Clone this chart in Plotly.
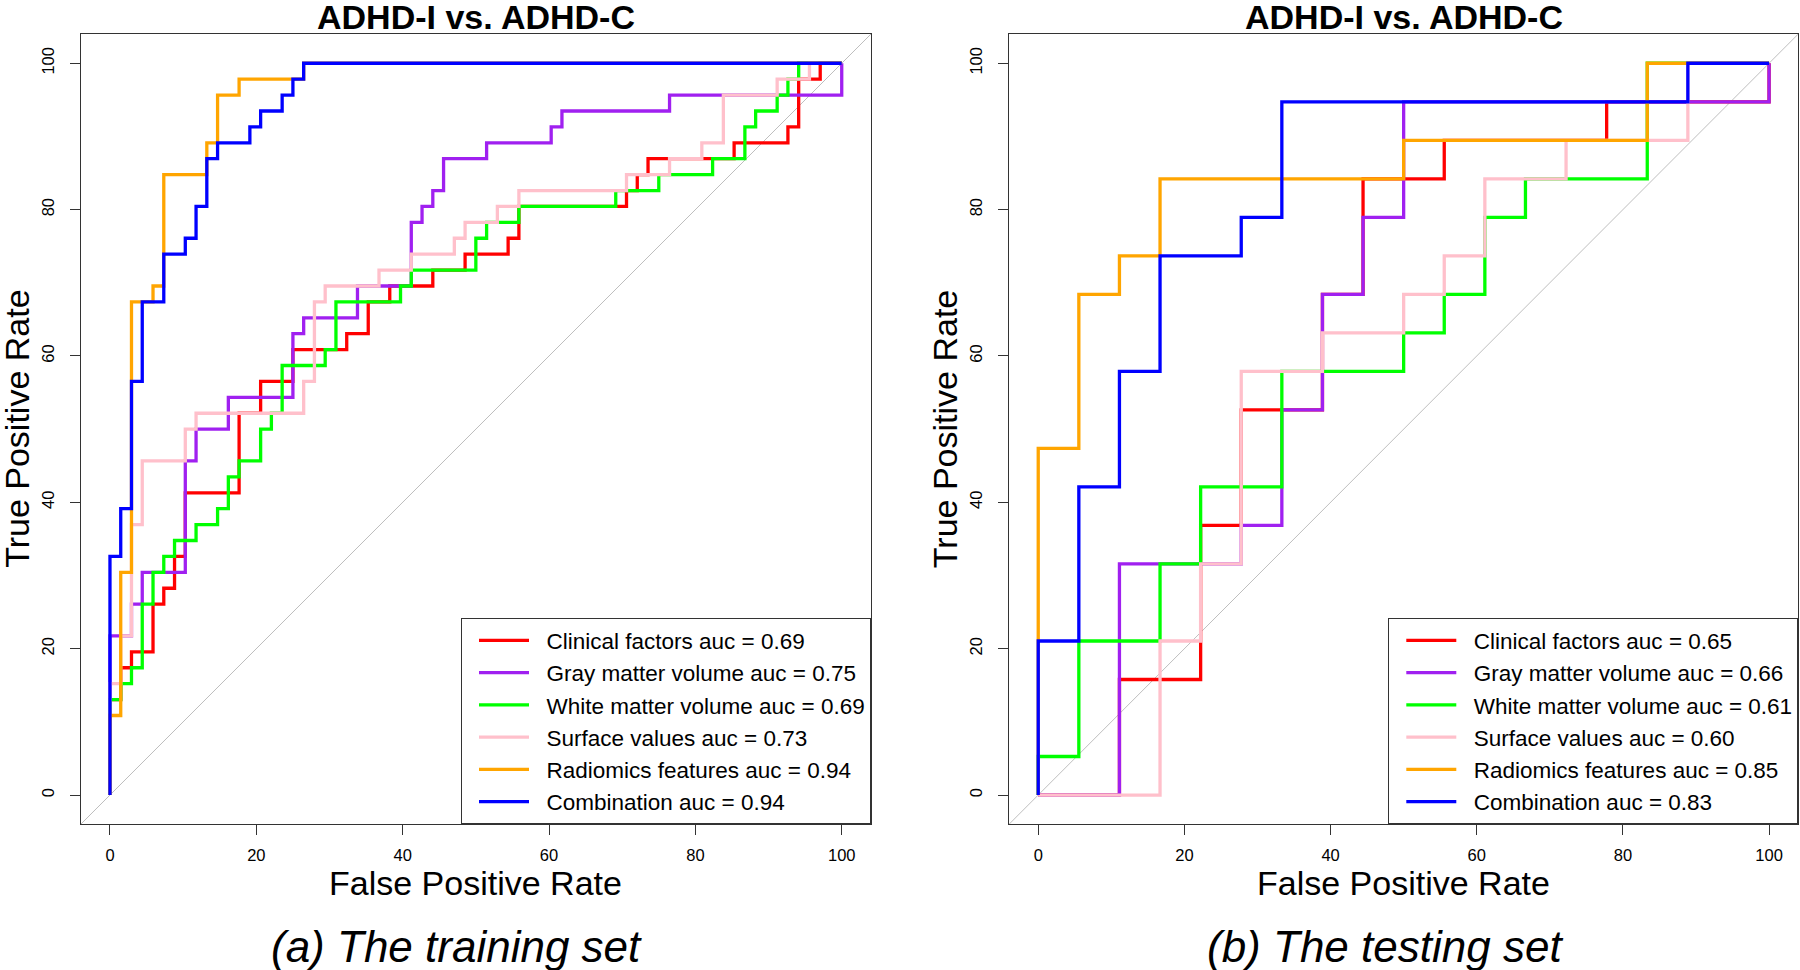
import plotly.graph_objects as go

# ---------------- data (step counts read from the ROC staircases) ----------------
n_neg_train = 68
n_pos_train = 46
n_neg_test = 18
n_pos_test = 19

# training set: false-positive counts / true-positive counts at each staircase corner
tr_clin_fp = [0, 0, 1, 1, 2, 2, 4, 4, 5, 5, 6, 6, 7, 7, 12, 12, 14, 14, 17, 17, 22, 22, 24, 24, 26, 26, 30, 30, 33, 33, 37, 37, 38, 38, 48, 48, 49, 49, 50, 50, 58, 58, 63, 63, 64, 64, 66, 66, 68]
tr_clin_tp = [0, 6, 6, 8, 8, 9, 9, 12, 12, 13, 13, 15, 15, 19, 19, 24, 24, 26, 26, 28, 28, 29, 29, 31, 31, 32, 32, 33, 33, 34, 34, 35, 35, 37, 37, 38, 38, 39, 39, 40, 40, 41, 41, 42, 42, 45, 45, 46, 46]

tr_gray_fp = [0, 0, 2, 2, 3, 3, 7, 7, 8, 8, 11, 11, 17, 17, 18, 18, 23, 23, 28, 28, 29, 29, 30, 30, 31, 31, 35, 35, 41, 41, 42, 42, 52, 52, 68, 68]
tr_gray_tp = [0, 10, 10, 12, 12, 14, 14, 21, 21, 23, 23, 25, 25, 29, 29, 30, 30, 32, 32, 36, 36, 37, 37, 38, 38, 40, 40, 41, 41, 42, 42, 43, 43, 44, 44, 46]

tr_white_fp = [0, 0, 1, 1, 2, 2, 3, 3, 4, 4, 5, 5, 6, 6, 8, 8, 10, 10, 11, 11, 12, 12, 14, 14, 15, 15, 16, 16, 20, 20, 21, 21, 27, 27, 28, 28, 34, 34, 35, 35, 38, 38, 47, 47, 51, 51, 56, 56, 59, 59, 60, 60, 62, 62, 63, 63, 64, 64, 68]
tr_white_tp = [0, 6, 6, 7, 7, 8, 8, 12, 12, 14, 14, 15, 15, 16, 16, 17, 17, 18, 18, 20, 20, 21, 21, 23, 23, 24, 24, 27, 27, 28, 28, 31, 31, 32, 32, 33, 33, 35, 35, 36, 36, 37, 37, 38, 38, 39, 39, 40, 40, 42, 42, 43, 43, 44, 44, 45, 45, 46, 46]

tr_surf_fp = [0, 0, 1, 1, 2, 2, 3, 3, 7, 7, 8, 8, 18, 18, 19, 19, 20, 20, 25, 25, 28, 28, 32, 32, 33, 33, 36, 36, 38, 38, 48, 48, 52, 52, 55, 55, 57, 57, 62, 62, 65, 65, 68]
tr_surf_tp = [0, 7, 7, 10, 10, 17, 17, 21, 21, 23, 23, 24, 24, 26, 26, 31, 31, 32, 32, 33, 33, 34, 34, 35, 35, 36, 36, 37, 37, 38, 38, 39, 39, 40, 40, 41, 41, 44, 44, 45, 45, 46, 46]

tr_radio_fp = [0, 0, 1, 1, 2, 2, 4, 4, 5, 5, 9, 9, 10, 10, 12, 12, 18, 18, 68]
tr_radio_tp = [0, 5, 5, 14, 14, 31, 31, 32, 32, 39, 39, 41, 41, 44, 44, 45, 45, 46, 46]

tr_comb_fp = [0, 0, 1, 1, 2, 2, 3, 3, 5, 5, 7, 7, 8, 8, 9, 9, 10, 10, 13, 13, 14, 14, 16, 16, 17, 17, 18, 18, 68]
tr_comb_tp = [0, 15, 15, 18, 18, 26, 26, 31, 31, 34, 34, 35, 35, 37, 37, 40, 40, 41, 41, 42, 42, 43, 43, 44, 44, 45, 45, 46, 46]

# testing set
te_clin_fp = [0, 2, 2, 4, 4, 5, 5, 7, 7, 8, 8, 10, 10, 14, 14, 18, 18]
te_clin_tp = [0, 0, 3, 3, 7, 7, 10, 10, 13, 13, 16, 16, 17, 17, 18, 18, 19]

te_gray_fp = [0, 2, 2, 5, 5, 6, 6, 7, 7, 8, 8, 9, 9, 18, 18]
te_gray_tp = [0, 0, 6, 6, 7, 7, 10, 10, 13, 13, 15, 15, 18, 18, 19]

te_white_fp = [0, 0, 1, 1, 3, 3, 4, 4, 6, 6, 9, 9, 10, 10, 11, 11, 12, 12, 15, 15, 18]
te_white_tp = [0, 1, 1, 4, 4, 6, 6, 8, 8, 11, 11, 12, 12, 13, 13, 15, 15, 16, 16, 19, 19]

te_surf_fp = [0, 3, 3, 4, 4, 5, 5, 7, 7, 9, 9, 10, 10, 11, 11, 13, 13, 16, 16, 18]
te_surf_tp = [0, 0, 4, 4, 6, 6, 11, 11, 12, 12, 13, 13, 14, 14, 16, 16, 17, 17, 19, 19]

te_radio_fp = [0, 0, 1, 1, 2, 2, 3, 3, 9, 9, 15, 15, 18]
te_radio_tp = [0, 9, 9, 13, 13, 14, 14, 16, 16, 17, 17, 19, 19]

te_comb_fp = [0, 0, 1, 1, 2, 2, 3, 3, 5, 5, 6, 6, 16, 16, 18]
te_comb_tp = [0, 4, 4, 8, 8, 11, 11, 14, 14, 15, 15, 18, 18, 19, 19]

train_labels = ["Clinical factors auc = 0.69", "Gray matter volume auc = 0.75",
                "White matter volume auc = 0.69", "Surface values auc = 0.73",
                "Radiomics features auc = 0.94", "Combination auc = 0.94"]
test_labels = ["Clinical factors auc = 0.65", "Gray matter volume auc = 0.66",
               "White matter volume auc = 0.61", "Surface values auc = 0.60",
               "Radiomics features auc = 0.85", "Combination auc = 0.83"]

tick_vals = [0, 20, 40, 60, 80, 100]
tick_text = ["0", "20", "40", "60", "80", "100"]

panel_titles = ["ADHD-I vs. ADHD-C", "ADHD-I vs. ADHD-C"]
captions = ["(a) The training set", "(b) The testing set"]

# ---------------- styling ----------------
colors = ["#FF0000", "#A020F0", "#00FF00", "#FFC0CB", "#FFA500", "#0000FF"]
FONT = "Liberation Sans, Arial, sans-serif"
W, H = 1800, 970
GAP = "\u00a0\u00a0"  # small visual gap between legend line sample and text

def px_x(p):
    return p / W

def px_y(p):
    return 1 - p / H

# plot-area pixel boxes (left, top, right, bottom)
box_l = (80.7, 34.0, 871.0, 824.3)
box_r = (1009.0, 34.0, 1798.3, 824.3)

fig = go.Figure()

train_series = [(tr_clin_fp, tr_clin_tp), (tr_gray_fp, tr_gray_tp), (tr_white_fp, tr_white_tp),
                (tr_surf_fp, tr_surf_tp), (tr_radio_fp, tr_radio_tp), (tr_comb_fp, tr_comb_tp)]
test_series = [(te_clin_fp, te_clin_tp), (te_gray_fp, te_gray_tp), (te_white_fp, te_white_tp),
               (te_surf_fp, te_surf_tp), (te_radio_fp, te_radio_tp), (te_comb_fp, te_comb_tp)]

for (fp, tp), name, col in zip(train_series, train_labels, colors):
    fig.add_trace(go.Scatter(
        x=[100 * v / n_neg_train for v in fp], y=[100 * v / n_pos_train for v in tp],
        mode="lines", name=GAP + name, line=dict(color=col, width=3.3),
        xaxis="x", yaxis="y", legend="legend", hoverinfo="skip"))

for (fp, tp), name, col in zip(test_series, test_labels, colors):
    fig.add_trace(go.Scatter(
        x=[100 * v / n_neg_test for v in fp], y=[100 * v / n_pos_test for v in tp],
        mode="lines", name=GAP + name, line=dict(color=col, width=3.3),
        xaxis="x2", yaxis="y2", legend="legend2", hoverinfo="skip"))

axis_common = dict(
    range=[-4, 104], showgrid=False, zeroline=False, showline=True, mirror=True,
    linecolor="#333333", linewidth=1, ticks="outside", ticklen=10, tickwidth=1,
    tickcolor="#333333", tickvals=tick_vals, ticktext=tick_text,
    tickfont=dict(family=FONT, size=16.5, color="#000000"), fixedrange=True,
)

legend_common = dict(
    xanchor="right", yanchor="bottom", bordercolor="#333333", borderwidth=1, bgcolor="white",
    font=dict(family=FONT, size=22.5, color="#000000"), itemwidth=50, indentation=12,
    tracegroupgap=0,
)

fig.update_layout(
    width=W, height=H, autosize=False,
    margin=dict(l=0, r=0, t=0, b=0),
    paper_bgcolor="white", plot_bgcolor="white",
    font=dict(family=FONT, color="#000000"),
    xaxis=dict(domain=[px_x(box_l[0]), px_x(box_l[2])], anchor="y", ticklabelstandoff=6, **axis_common),
    yaxis=dict(domain=[px_y(box_l[3]), px_y(box_l[1])], anchor="x", tickangle=-90, ticklabelstandoff=9, **axis_common),
    xaxis2=dict(domain=[px_x(box_r[0]), px_x(box_r[2])], anchor="y2", ticklabelstandoff=6, **axis_common),
    yaxis2=dict(domain=[px_y(box_r[3]), px_y(box_r[1])], anchor="x2", tickangle=-90, ticklabelstandoff=9, **axis_common),
    legend=dict(x=px_x(box_l[2]), y=px_y(box_l[3]), **legend_common),
    legend2=dict(x=px_x(box_r[2]), y=px_y(box_r[3]), **legend_common),
    showlegend=True,
)

# diagonal reference lines (y = x across each plot area)
for xr, yr in [("x domain", "y domain"), ("x2 domain", "y2 domain")]:
    fig.add_shape(type="line", xref=xr, yref=yr, x0=0, y0=0, x1=1, y1=1,
                  line=dict(color="#BEBEBE", width=1), layer="below")

annotations = []
for box, title, cap, cap_cx in [(box_l, panel_titles[0], captions[0], 456),
                                (box_r, panel_titles[1], captions[1], 1384.5)]:
    cx = (box[0] + box[2]) / 2
    cy = (box[1] + box[3]) / 2
    annotations.append(dict(text="<b>" + title + "</b>", x=px_x(cx), y=px_y(17), xref="paper", yref="paper",
                            xanchor="center", yanchor="middle", showarrow=False,
                            font=dict(family=FONT, size=34, color="#000000")))
    annotations.append(dict(text="False Positive Rate", x=px_x(cx), y=px_y(883), xref="paper", yref="paper",
                            xanchor="center", yanchor="middle", showarrow=False,
                            font=dict(family=FONT, size=34, color="#000000")))
    annotations.append(dict(text="True Positive Rate", x=px_x(box[0] - 64), y=px_y(cy), xref="paper", yref="paper",
                            xanchor="center", yanchor="middle", showarrow=False, textangle=-90,
                            font=dict(family=FONT, size=34, color="#000000")))
    annotations.append(dict(text="<i>" + cap + "</i>", x=px_x(cap_cx), y=px_y(946), xref="paper", yref="paper",
                            xanchor="center", yanchor="middle", showarrow=False,
                            font=dict(family=FONT, size=44, color="#000000")))
fig.update_layout(annotations=annotations)

fig.write_html("out.html", config={"displayModeBar": False},
               post_script="document.body.style.margin='0';document.body.style.overflow='hidden';")
